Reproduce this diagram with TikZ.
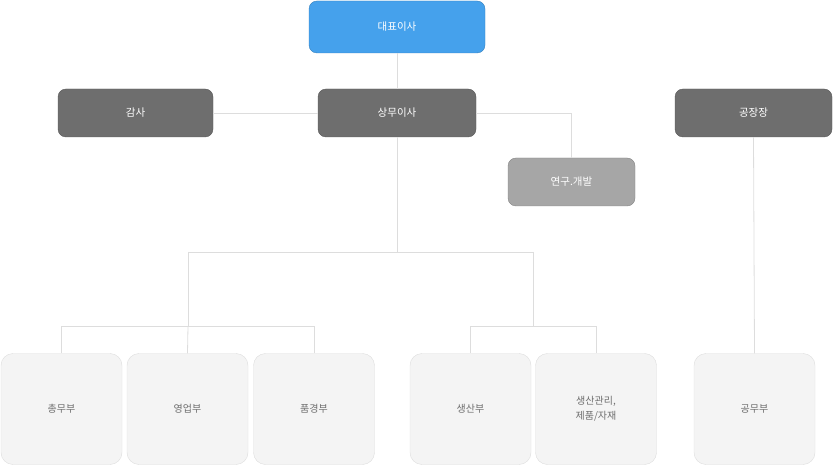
\documentclass[tikz,border=0pt]{standalone}
\usepackage{fontspec}
\newfontfamily\cjk{Noto Sans CJK KR}
\usetikzlibrary{positioning}
\definecolor{boss}{HTML}{45A1EC}
\definecolor{dark}{HTML}{6E6E6E}
\definecolor{mid}{HTML}{A6A6A6}
\definecolor{pale}{HTML}{F4F4F4}
\definecolor{wire}{HTML}{DDDDDD}
\tikzset{
	head/.style   = {draw=#1!80!black, fill=#1, rounded corners=8pt, text=white,
		font=\cjk\fontsize{10.5}{12}\selectfont, minimum height=48pt, inner sep=0pt},
	dept/.style   = {draw=wire, fill=pale, rounded corners=12pt, text=dark,
		font=\cjk\fontsize{10}{15}\selectfont, minimum width=121pt, minimum height=111pt,
		align=center, inner sep=0pt},
	link/.style   = {draw=wire, line width=0.8pt}
}
\begin{document}
\begin{tikzpicture}[x=1pt, y=-1pt]
	\useasboundingbox (0,0) rectangle (833,465);
	
	\draw
	node at (397,27) [head=boss, minimum width=176pt, minimum height=52pt] (ceo) {대표이사}
	node at (135.5,113) [head=dark, minimum width=155pt] (audit) {감사}
	node at (397,113) [head=dark, minimum width=158pt] (exec) {상무이사}
	node at (753.5,113) [head=dark, minimum width=157pt] (plant) {공장장}
	node at (571.5,182) [head=mid, minimum width=127pt] (rnd) {연구.개발}
	node at (61.5,409) [dept] (gen) {총무부}
	node at (187.5,409) [dept] (sales) {영업부}
	node at (314,409) [dept] (qual) {품경부}
	node at (470.5,409) [dept] (prod) {생산부}
	node at (596,409) [dept] (ctrl) {생산관리,\\제품/자재}
	node at (754.5,409) [dept] (works) {공무부};
	
	\coordinate (j1) at (397,252);
	\coordinate (j2) at (188,252);
	\coordinate (j3) at (533,252);
	\coordinate (j4) at (188,326);
	\coordinate (j5) at (533,326);
	
	\path[link](ceo)--(exec);
	\path[link](audit)--(exec);
	\path[link](exec.east)-|(rnd.north);
	\path[link](exec)--(j1);
	\path[link](j2)--(j3);
	\path[link](j2)--(j4);
	\path[link](j3)--(j5);
	\path[link](gen.north)|-(j4);
	\path[link](qual.north)|-(j4);
	\path[link](j4)--(sales.north);
	\path[link](prod.north)|-(j5);
	\path[link](ctrl.north)|-(j5);
	\path[link](plant.south)--(works.north);
	
\end{tikzpicture}
\end{document}
